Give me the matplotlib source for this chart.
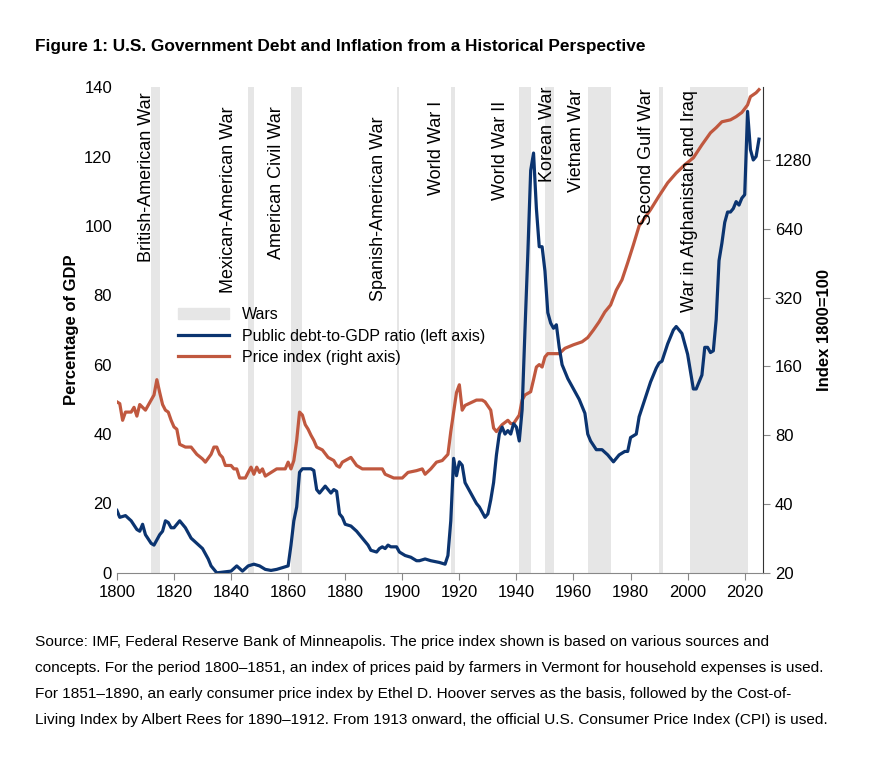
import matplotlib.pyplot as plt
from matplotlib.patches import Patch
from matplotlib.lines import Line2D

plt.rcParams['font.family'] = ['Liberation Sans', 'DejaVu Sans']

debt_years = [1800, 1801, 1803, 1805, 1807, 1808, 1809, 1810, 1812, 1813, 1815, 1816, 1817, 1818, 1819, 1820,
              1822, 1824, 1826, 1828, 1830, 1832, 1833, 1835, 1838, 1840, 1842, 1844, 1846, 1848, 1850, 1852,
              1854, 1856, 1858, 1860, 1861, 1862, 1863, 1864, 1865, 1866, 1868, 1869, 1870, 1871, 1873, 1874,
              1875, 1876, 1877, 1878, 1879, 1880, 1882, 1884, 1886, 1888, 1889, 1891, 1892, 1893, 1894, 1895,
              1896, 1898, 1899, 1901, 1903, 1905, 1906, 1908, 1910, 1913, 1915, 1916, 1917, 1918, 1919, 1920,
              1921, 1922, 1924, 1926, 1927, 1929, 1930, 1931, 1932, 1933, 1934, 1935, 1936, 1937, 1938, 1939,
              1940, 1941, 1942, 1943, 1944, 1945, 1946, 1947, 1948, 1949, 1950, 1951, 1952, 1953, 1954, 1955,
              1956, 1957, 1958, 1960, 1962, 1964, 1965, 1966, 1968, 1970, 1972, 1974, 1976, 1978, 1979, 1980,
              1982, 1983, 1985, 1987, 1989, 1990, 1991, 1993, 1995, 1996, 1998, 2000, 2001, 2002, 2003, 2005,
              2006, 2007, 2008, 2009, 2010, 2011, 2012, 2013, 2014, 2015, 2016, 2017, 2018, 2019, 2020, 2021,
              2022, 2023, 2024, 2025]
debt = [18, 16, 16.5, 15, 12.5, 12, 14, 11, 8.5, 8, 11, 12, 15, 14.5, 13, 13,
        15, 13, 10, 8.5, 7, 4, 2, 0, 0.3, 0.5, 2, 0.5, 2, 2.5, 2, 1,
        0.7, 1, 1.5, 2, 8, 15, 19, 29, 30, 30, 30, 29.5, 24, 23, 25, 24,
        23, 24, 23.5, 17, 16, 14, 13.5, 12, 10, 8, 6.5, 6, 7, 7.5, 7, 8,
        7.5, 7.5, 6, 5, 4.5, 3.5, 3.5, 4, 3.5, 3, 2.5, 5, 15, 33, 28, 32,
        31, 26, 23, 20, 19, 16, 17, 21, 26, 34, 40, 42, 40, 41, 40, 43,
        42, 38, 47, 70, 92, 116, 121, 105, 94, 94, 87, 75, 72, 70.5, 71.5, 65,
        60, 58, 56, 53, 50, 46, 40, 38, 35.5, 35.5, 34, 32, 34, 35, 35, 39,
        40, 45, 50, 55, 59, 60.5, 61, 66, 70, 71, 69, 63, 58, 53, 53, 57,
        65, 65, 63.5, 64, 73, 90, 95, 101, 104, 104, 105, 107, 106, 108, 109, 133,
        122, 119, 120, 125]

price_years = [1800, 1801, 1802, 1803, 1805, 1806, 1807, 1808, 1810, 1812, 1813, 1814, 1815, 1816, 1817, 1818,
               1819, 1820, 1821, 1822, 1824, 1826, 1828, 1830, 1831, 1833, 1834, 1835, 1836, 1837, 1838, 1840,
               1841, 1842, 1843, 1845, 1846, 1847, 1848, 1849, 1850, 1851, 1852, 1854, 1856, 1858, 1859, 1860,
               1861, 1862, 1863, 1864, 1865, 1866, 1867, 1868, 1869, 1870, 1872, 1874, 1876, 1877, 1878, 1879,
               1880, 1882, 1884, 1886, 1890, 1893, 1894, 1897, 1900, 1902, 1905, 1907, 1908, 1910, 1912, 1914,
               1916, 1917, 1918, 1919, 1920, 1921, 1922, 1924, 1926, 1928, 1929, 1931, 1932, 1933, 1934, 1935,
               1937, 1938, 1939, 1941, 1942, 1943, 1945, 1946, 1947, 1948, 1949, 1950, 1951, 1953, 1955, 1957,
               1960, 1963, 1965, 1967, 1969, 1971, 1973, 1975, 1977, 1979, 1981, 1983, 1985, 1987, 1990, 1993,
               1996, 1999, 2002, 2005, 2008, 2010, 2012, 2015, 2017, 2019, 2021, 2022, 2024, 2025]
price = [112, 110, 93, 101, 101, 106, 97, 109, 103, 114, 120, 140, 123, 109, 103, 101,
         93, 87, 85, 73, 71, 71, 66, 63, 61, 66, 71, 71, 66, 64, 59, 59,
         57, 57, 52, 52, 55, 58, 54, 58, 55, 57, 53, 55, 57, 57, 57, 61,
         57, 62, 76, 101, 98, 89, 85, 80, 76, 71, 69, 64, 62, 59, 58, 61,
         62, 64, 59, 57, 57, 57, 54, 52, 52, 55, 56, 57, 54, 57, 61, 62,
         66, 83, 101, 123, 133, 103, 108, 111, 114, 114, 112, 103, 86, 83, 86, 89,
         93, 90, 90, 98, 114, 120, 124, 140, 159, 163, 159, 176, 182, 182, 182, 192,
         199, 205, 214, 231, 251, 277, 297, 345, 383, 455, 545, 659, 715, 776, 892, 1017,
         1123, 1220, 1308, 1491, 1683, 1773, 1881, 1918, 1981, 2066, 2229, 2422, 2520, 2600]

wars = [(1812, 1815), (1846, 1848), (1861, 1865), (1898, 1898.8), (1917, 1918.5), (1941, 1945),
        (1950, 1953), (1965, 1973), (1990, 1991.2), (2001, 2021)]
war_names = ['British-American War', 'Mexican-American War', 'American Civil War', 'Spanish-American War',
             'World War I', 'World War II', 'Korean War', 'Vietnam War', 'Second Gulf War',
             'War in Afghanistan and Iraq']
label_x = [1810.5, 1839, 1856, 1891.5, 1912, 1934.5, 1951, 1961, 1985.5, 2000.7]
label_top = [138.5, 134.5, 134.5, 131.5, 136, 136, 140, 139.5, 139.5, 139]

navy = '#0b3470'
rust = '#c0583f'
grey = '#e6e6e6'

fig = plt.figure(figsize=(8.79, 7.71), dpi=100)
ax = fig.add_axes([0.133, 0.257, 0.735, 0.63])
ax2 = ax.twinx()

# shaded wars go on the twin axes, which sits underneath
for (a, b) in wars:
    ax2.axvspan(a, b, color=grey, lw=0, zorder=0)
for name, x, t in zip(war_names, label_x, label_top):
    ax.text(x, t, name, rotation=90, ha='center', va='top', fontsize=13, zorder=3)

ax.plot(debt_years, debt, color=navy, lw=2.3, zorder=4)
ax2.plot(price_years, price, color=rust, lw=2.3, zorder=2)
ax.set_zorder(ax2.get_zorder() + 1)
ax.patch.set_visible(False)

ax.set_xlim(1800, 2026.4)
ax.set_ylim(0, 140)
ax.set_xticks(range(1800, 2021, 20))
ax.set_yticks(range(0, 141, 20))
ax.set_ylabel('Percentage of GDP', fontsize=12, fontweight='bold')

ax2.set_yscale('log', base=2)
ax2.set_ylim(20, 2667)
ticks = [20, 40, 80, 160, 320, 640, 1280]
ax2.set_yticks(ticks)
ax2.set_yticklabels([str(t) for t in ticks])
ax2.minorticks_off()
ax2.set_ylabel('Index 1800=100', fontsize=12, fontweight='bold')

for a in (ax, ax2):
    a.tick_params(labelsize=12, color='#888888', length=5)
    for s in ['top', 'left']:
        a.spines[s].set_visible(False)
    a.spines['right'].set_visible(a is ax2)
    a.spines['bottom'].set_color('#888888')
    a.spines['right'].set_color('#333333')
ax.tick_params(axis='y', length=0)
ax2.spines['left'].set_visible(False)
ax2.spines['bottom'].set_visible(False)

handles = [Patch(color=grey), Line2D([], [], color=navy, lw=2.3), Line2D([], [], color=rust, lw=2.3)]
labels = ['Wars', 'Public debt-to-GDP ratio (left axis)', 'Price index (right axis)']
ax.legend(handles, labels, loc='upper left', bbox_to_anchor=(0.085, 0.56), frameon=False,
          fontsize=11.5, handlelength=3.2, labelspacing=0.4, borderaxespad=0)

fig.text(0.04, 0.94, 'Figure 1: U.S. Government Debt and Inflation from a Historical Perspective',
         fontsize=12.4, fontweight='bold', va='center')

notes = ['Source: IMF, Federal Reserve Bank of Minneapolis. The price index shown is based on various sources and',
         'concepts. For the period 1800–1851, an index of prices paid by farmers in Vermont for household expenses is used.',
         'For 1851–1890, an early consumer price index by Ethel D. Hoover serves as the basis, followed by the Cost-of-',
         'Living Index by Albert Rees for 1890–1912. From 1913 onward, the official U.S. Consumer Price Index (CPI) is used.']
for i, line in enumerate(notes):
    fig.text(0.04, 1 - (642 + i * 26) / 771, line, fontsize=11.1, va='center')

fig.savefig('out.png', dpi=100)
